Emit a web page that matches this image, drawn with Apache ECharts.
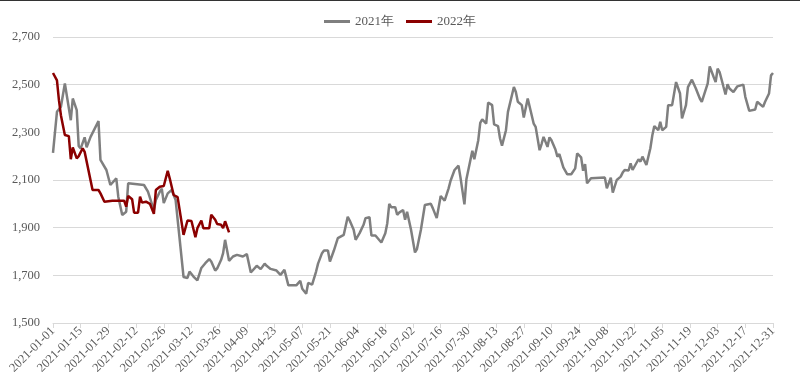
<!DOCTYPE html>
<html><head><meta charset="utf-8">
<script src="https://cdn.jsdelivr.net/npm/echarts@6/dist/echarts.min.js"></script>
<style>html,body{margin:0;padding:0;background:#fff}#c{width:800px;height:386px}</style>
</head><body><div id="c"></div>
<script>
// Day offsets from 2021-01-01 and values
var days2021 = [0,2,4,6,9,10,12,13,14,16,17,19,23,24,25,27,29,30,32,33,35,37,38,39,46,48,49,51,52,54,55,56,58,60,62,66,68,69,71,73,75,77,79,80,82,83,85,86,87,89,91,93,94,96,98,100,101,103,105,107,108,110,111,113,114,115,117,118,119,123,125,126,128,129,131,132,133,134,136,137,139,140,142,144,145,147,148,149,150,152,153,155,157,158,160,161,163,164,166,168,169,170,171,173,174,175,177,178,179,181,183,184,185,186,188,189,191,192,194,195,196,198,200,201,202,203,205,206,208,209,210,212,213,215,216,217,219,220,222,223,225,226,227,229,230,231,233,234,235,237,238,240,241,243,244,246,247,248,250,251,252,254,255,256,258,260,262,264,265,267,268,269,270,272,279,280,282,283,284,285,287,288,289,291,292,293,294,296,297,298,300,302,303,304,306,307,308,310,311,313,314,315,317,318,320,321,322,323,325,327,328,329,331,332,334,335,336,337,339,340,341,342,344,345,346,347,349,350,352,353,355,356,357,359,360,362,363,364];
var values2021 = [2214,2386,2407,2505,2351,2442,2393,2242,2233,2279,2237,2281,2347,2184,2181,2142,2079,2072,2107,2030,1953,1967,2086,2079,2079,2051,2044,1974,2016,2051,2064,2003,2044,2058,2016,1693,1689,1716,1695,1679,1731,1751,1768,1758,1720,1729,1765,1793,1849,1761,1779,1786,1793,1779,1789,1712,1712,1740,1726,1749,1740,1727,1727,1720,1723,1702,1723,1720,1658,1658,1677,1644,1623,1668,1661,1654,1716,1749,1793,1804,1804,1758,1804,1856,1849,1870,1877,1946,1930,1891,1849,1877,1912,1940,1944,1867,1867,1865,1838,1877,1919,2000,1986,1986,1954,1963,1974,1933,1967,1891,1796,1810,1814,1891,1995,1988,2000,1982,1940,1937,2033,2013,2065,2097,2097,2142,2160,2111,1998,2103,2103,2223,2187,2267,2340,2354,2337,2425,2414,2333,2326,2274,2244,2309,2386,2383,2490,2469,2428,2414,2362,2442,2449,2337,2323,2225,2251,2281,2239,2279,2267,2228,2198,2209,2153,2124,2124,2149,2212,2195,2139,2167,2086,2107,2110,2065,2110,2047,2051,2100,2114,2131,2142,2140,2170,2142,2150,2187,2177,2198,2163,2233,2288,2326,2309,2344,2309,2323,2414,2414,2420,2511,2463,2358,2414,2490,2488,2521,2484,2442,2428,2424,2505,2577,2532,2511,2567,2553,2490,2459,2502,2484,2469,2463,2493,2486,2500,2449,2390,2396,2396,2428,2421,2407,2428,2463,2539,2549];
var days2022 = [0,2,3,4,5,6,8,9,10,12,13,14,15,16,20,23,24,26,30,36,37,38,40,41,43,44,45,47,49,50,51,52,54,56,58,59,61,63,66,68,70,72,73,75,76,79,80,82,83,85,86,87,89];
var values2022 = [2549,2518,2435,2372,2330,2289,2284,2187,2237,2191,2200,2195,2233,2218,2058,2058,2044,2009,2013,2013,1988,2033,2019,1963,1963,2030,2005,2009,2000,1993,1958,2058,2072,2075,2139,2107,2037,2028,1870,1930,1928,1860,1898,1930,1898,1898,1954,1933,1915,1912,1898,1927,1880];
var seriesNames = ['2021年','2022年'];
var yTicks = [1500,1700,1900,2100,2300,2500,2700];

var categories = [];
(function(){
  var d = new Date(Date.UTC(2021,0,1));
  for (var i=0;i<365;i++){
    var y=d.getUTCFullYear(), m=('0'+(d.getUTCMonth()+1)).slice(-2), dd=('0'+d.getUTCDate()).slice(-2);
    categories.push(y+'-'+m+'-'+dd);
    d.setUTCDate(d.getUTCDate()+1);
  }
})();
function pairs(ds, vs){ return ds.map(function(d,i){ return [d, vs[i]]; }); }

var chart = echarts.init(document.getElementById('c'), null, {renderer:'canvas'});
var font = '"Liberation Serif", "Times New Roman", serif';
chart.setOption({
  animation:false,
  backgroundColor:'#fff',
  textStyle:{fontFamily:font},
  graphic:[{type:'rect', shape:{x:0,y:0,width:800,height:1}, style:{fill:'#333'}}],
  legend:{
    top:10, left:'center', icon:'rect', itemWidth:26, itemHeight:3, itemGap:12,
    textStyle:{fontFamily:font, fontSize:13, color:'#595959'},
    data:seriesNames
  },
  grid:{left:53, right:27, top:37, bottom:63},
  xAxis:{
    type:'category', data:categories, boundaryGap:false,
    axisLine:{lineStyle:{color:'#d9d9d9'}},
    axisTick:{interval:13, length:5, lineStyle:{color:'#d9d9d9'}},
    axisLabel:{interval:13, rotate:45, fontSize:12.5, color:'#595959', fontFamily:font, margin:6}
  },
  yAxis:{
    type:'value', min:yTicks[0], max:yTicks[yTicks.length-1], interval:200,
    axisLine:{show:false}, axisTick:{show:false},
    axisLabel:{fontSize:12.5, color:'#595959', fontFamily:font, margin:13,
      formatter:function(v){ return v.toLocaleString('en-US'); }},
    splitLine:{lineStyle:{color:'#d9d9d9', width:1}}
  },
  series:[
    {name:seriesNames[0], type:'line', symbol:'none', data:pairs(days2021, values2021),
     lineStyle:{color:'#7f7f7f', width:2.5}, itemStyle:{color:'#7f7f7f'}},
    {name:seriesNames[1], type:'line', symbol:'none', data:pairs(days2022, values2022),
     lineStyle:{color:'#8b0000', width:2.5}, itemStyle:{color:'#8b0000'}}
  ]
});
</script></body></html>
